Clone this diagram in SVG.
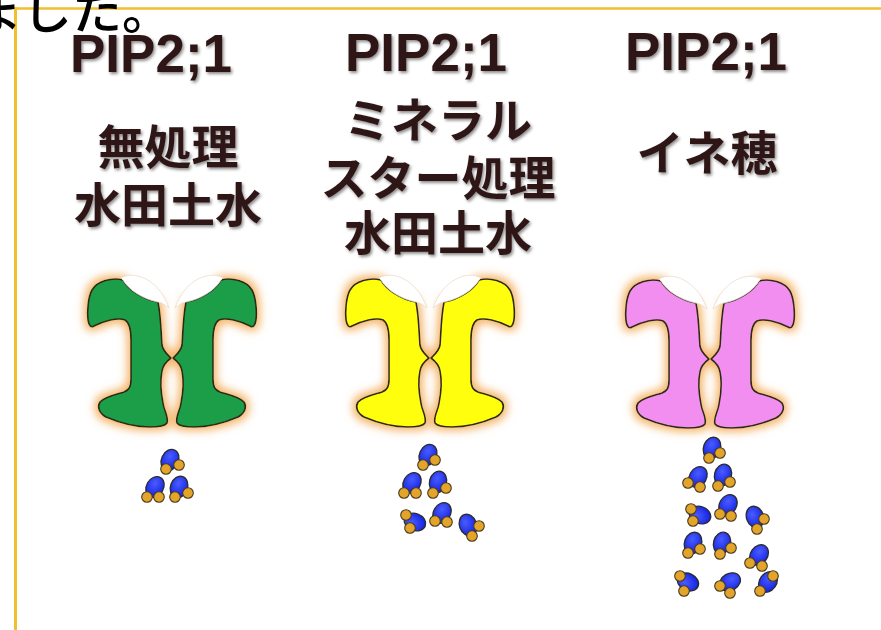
<svg xmlns="http://www.w3.org/2000/svg" xmlns:xlink="http://www.w3.org/1999/xlink" width="881" height="630" viewBox="0 0 881 630">
  <defs>
    <style>
      .head { font-family: "Noto Sans CJK JP", "Noto Sans", sans-serif; font-size: 50px; font-weight: 500; fill: #000; }
      .title { font-family: "Liberation Sans", Arial, sans-serif; font-weight: 700; font-size: 53px; fill: #2e1616; text-anchor: middle; filter: url(#emboss); }
      .label { font-family: "Noto Sans CJK JP", "Noto Sans", sans-serif; font-weight: 700; font-size: 47px; fill: #2e1616; text-anchor: middle; filter: url(#emboss); }
      .half { stroke: #2a2a1a; stroke-width: 1.6; stroke-linejoin: round; }
      .cap { fill: #ffffff; stroke: #eadccb; stroke-width: 0.8; }
      .o { fill: url(#blueGrad); stroke: #2a2a30; stroke-width: 1.3; }
      .h { fill: #e2a52a; stroke: #4a3a20; stroke-width: 1.1; }
      .frame { stroke: #f0c030; fill: none; }
    </style>
    <filter id="emboss" x="-10%" y="-20%" width="130%" height="150%">
      <feDropShadow dx="1.5" dy="2" stdDeviation="1.4" flood-color="#000" flood-opacity="0.45"/>
    </filter>
    <filter id="glow" x="-25%" y="-25%" width="150%" height="150%">
      <feMorphology in="SourceAlpha" operator="dilate" radius="3" result="grow"/>
      <feGaussianBlur in="grow" stdDeviation="4.5" result="soft"/>
      <feFlood flood-color="#f2a850" flood-opacity="0.85"/>
      <feComposite in2="soft" operator="in" result="halo"/>
      <feMerge>
        <feMergeNode in="halo"/>
        <feMergeNode in="SourceGraphic"/>
      </feMerge>
    </filter>
    <radialGradient id="blueGrad" cx="40%" cy="35%" r="70%">
      <stop offset="0" stop-color="#4a5cff"/>
      <stop offset="1" stop-color="#1020e0"/>
    </radialGradient>
    <!-- one half of the channel, local origin at the central pinch -->
    <path id="halfShape" d="M -14,-55 C -30,-58 -44,-68 -49,-77 C -60,-80 -75,-76 -80,-67 C -84,-60 -85,-45 -84,-37 C -83,-31 -81,-29 -78,-31 C -68,-36 -54,-40 -47,-37 C -42,-34 -41,-26 -41,-17 L -41,22 C -41,30 -43,33 -48,35 C -58,38 -68,40 -72,45 C -75,50 -73,56 -66,60 C -52,66 -36,70 -22,70 C -13,70 -7,69 -5,66 C -3,60 -8,54 -9,46 C -11,36 -12,24 -10,14 C -9,8 -5,4 -1,1 C -5,-3 -9,-6 -10,-12 C -11,-25 -11,-40 -14,-55 Z"/>
    <path id="capShape" d="M -51,-79 C -38,-87 -13,-78 -3,-49 C -7,-52 -11,-55 -14,-55 C -30,-58 -44,-68 -49,-77 Z"/>
  </defs>

  <rect width="881" height="630" fill="#ffffff"/>

  <!-- frame lines -->
  <line class="frame" x1="14" y1="8.5" x2="881" y2="8.5" stroke-width="2.5"/>
  <line class="frame" x1="15.5" y1="7" x2="15.5" y2="630" stroke-width="3"/>

  <text class="head" x="-28" y="29">ました。</text>

  <!-- column 1: untreated paddy soil water -->
  <g id="col-untreated">
    <text class="title" x="151" y="72">PIP2;1</text>
    <text class="label" x="168" y="164">無処理</text>
    <text class="label" x="168" y="222">水田土水</text>
    <g id="channel-green" transform="translate(172,357)">
      <g filter="url(#glow)">
        <use href="#halfShape" class="half" fill="#1d9e48"/>
        <use href="#halfShape" class="half" fill="#1d9e48" transform="scale(-1,1)"/>
      </g>
      <use href="#capShape" class="cap"/>
      <use href="#capShape" class="cap" transform="scale(-1,1)"/>
    </g>
    <g id="water-1">
      <ellipse class="o" cx="170" cy="460" rx="8.5" ry="11" transform="rotate(25 170 460)"/>
      <circle class="h" cx="166" cy="469" r="5.3"/><circle class="h" cx="179" cy="465" r="5.3"/>
      <ellipse class="o" cx="155" cy="487" rx="8.5" ry="11" transform="rotate(30 155 487)"/>
      <circle class="h" cx="147" cy="497" r="5.3"/><circle class="h" cx="159" cy="497" r="5.3"/>
      <ellipse class="o" cx="179" cy="487" rx="8.5" ry="11" transform="rotate(20 179 487)"/>
      <circle class="h" cx="175" cy="497" r="5.3"/><circle class="h" cx="188" cy="493" r="5.3"/>
    </g>
  </g>

  <!-- column 2: mineral-star treated paddy soil water -->
  <g id="col-mineral">
    <text class="title" x="426" y="71">PIP2;1</text>
    <text class="label" x="438" y="137">ミネラル</text>
    <text class="label" x="438" y="195">スター処理</text>
    <text class="label" x="438" y="250">水田土水</text>
    <g id="channel-yellow" transform="translate(430,357)">
      <g filter="url(#glow)">
        <use href="#halfShape" class="half" fill="#ffff10"/>
        <use href="#halfShape" class="half" fill="#ffff10" transform="scale(-1,1)"/>
      </g>
      <use href="#capShape" class="cap"/>
      <use href="#capShape" class="cap" transform="scale(-1,1)"/>
    </g>
    <g id="water-2">
      <ellipse class="o" cx="428" cy="455" rx="8.5" ry="11" transform="rotate(25 428 455)"/>
      <circle class="h" cx="423" cy="465" r="5.3"/><circle class="h" cx="435" cy="460" r="5.3"/>
      <ellipse class="o" cx="412" cy="483" rx="8.5" ry="11" transform="rotate(30 412 483)"/>
      <circle class="h" cx="404" cy="493" r="5.3"/><circle class="h" cx="416" cy="493" r="5.3"/>
      <ellipse class="o" cx="438" cy="482" rx="8.5" ry="11" transform="rotate(15 438 482)"/>
      <circle class="h" cx="433" cy="493" r="5.3"/><circle class="h" cx="446" cy="488" r="5.3"/>
      <ellipse class="o" cx="415" cy="522" rx="8.5" ry="11" transform="rotate(-70 415 522)"/>
      <circle class="h" cx="406" cy="515" r="5.3"/><circle class="h" cx="410" cy="528" r="5.3"/>
      <ellipse class="o" cx="442" cy="513" rx="8.5" ry="11" transform="rotate(30 442 513)"/>
      <circle class="h" cx="435" cy="521" r="5.3"/><circle class="h" cx="447" cy="522" r="5.3"/>
      <ellipse class="o" cx="468" cy="525" rx="8.5" ry="11" transform="rotate(-20 468 525)"/>
      <circle class="h" cx="479" cy="526" r="5.3"/><circle class="h" cx="472" cy="536" r="5.3"/>
    </g>
  </g>

  <!-- column 3: rice panicle -->
  <g id="col-panicle">
    <text class="title" x="706" y="70">PIP2;1</text>
    <text class="label" x="707" y="170">イネ穂</text>
    <g id="channel-pink" transform="translate(710,358)">
      <g filter="url(#glow)">
        <use href="#halfShape" class="half" fill="#f28ef0"/>
        <use href="#halfShape" class="half" fill="#f28ef0" transform="scale(-1,1)"/>
      </g>
      <use href="#capShape" class="cap"/>
      <use href="#capShape" class="cap" transform="scale(-1,1)"/>
    </g>
    <g id="water-3">
      <ellipse class="o" cx="712" cy="448" rx="8.5" ry="11" transform="rotate(20 712 448)"/>
      <circle class="h" cx="709" cy="458" r="5.3"/><circle class="h" cx="720" cy="453" r="5.3"/>
      <ellipse class="o" cx="698" cy="477" rx="8.5" ry="11" transform="rotate(30 698 477)"/>
      <circle class="h" cx="688" cy="483" r="5.3"/><circle class="h" cx="700" cy="487" r="5.3"/>
      <ellipse class="o" cx="723" cy="475" rx="8.5" ry="11" transform="rotate(15 723 475)"/>
      <circle class="h" cx="718" cy="486" r="5.3"/><circle class="h" cx="730" cy="482" r="5.3"/>
      <ellipse class="o" cx="700" cy="515" rx="8.5" ry="11" transform="rotate(-70 700 515)"/>
      <circle class="h" cx="691" cy="509" r="5.3"/><circle class="h" cx="693" cy="521" r="5.3"/>
      <ellipse class="o" cx="728" cy="505" rx="8.5" ry="11" transform="rotate(30 728 505)"/>
      <circle class="h" cx="720" cy="514" r="5.3"/><circle class="h" cx="731" cy="516" r="5.3"/>
      <ellipse class="o" cx="755" cy="517" rx="8.5" ry="11" transform="rotate(-20 755 517)"/>
      <circle class="h" cx="764" cy="519" r="5.3"/><circle class="h" cx="757" cy="529" r="5.3"/>
      <ellipse class="o" cx="693" cy="543" rx="8.5" ry="11" transform="rotate(20 693 543)"/>
      <circle class="h" cx="688" cy="553" r="5.3"/><circle class="h" cx="700" cy="549" r="5.3"/>
      <ellipse class="o" cx="722" cy="543" rx="8.5" ry="11" transform="rotate(15 722 543)"/>
      <circle class="h" cx="720" cy="554" r="5.3"/><circle class="h" cx="731" cy="548" r="5.3"/>
      <ellipse class="o" cx="759" cy="555" rx="8.5" ry="11" transform="rotate(35 759 555)"/>
      <circle class="h" cx="750" cy="563" r="5.3"/><circle class="h" cx="762" cy="566" r="5.3"/>
      <ellipse class="o" cx="688" cy="582" rx="8.5" ry="11" transform="rotate(-65 688 582)"/>
      <circle class="h" cx="680" cy="576" r="5.3"/><circle class="h" cx="684" cy="591" r="5.3"/>
      <ellipse class="o" cx="730" cy="582" rx="8.5" ry="11" transform="rotate(60 730 582)"/>
      <circle class="h" cx="720" cy="586" r="5.3"/><circle class="h" cx="730" cy="593" r="5.3"/>
      <ellipse class="o" cx="768" cy="582" rx="8.5" ry="11" transform="rotate(35 768 582)"/>
      <circle class="h" cx="773" cy="576" r="5.3"/><circle class="h" cx="760" cy="591" r="5.3"/>
    </g>
  </g>
</svg>
